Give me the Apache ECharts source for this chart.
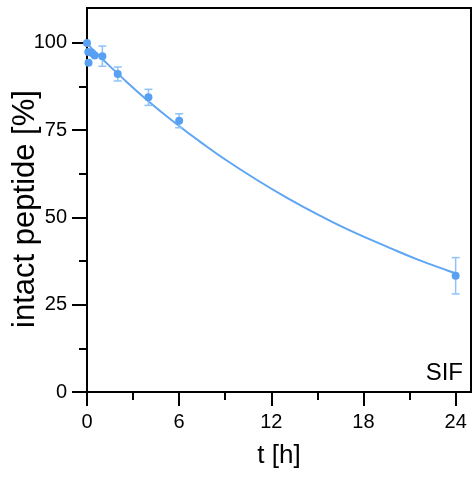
<!DOCTYPE html>
<html><head><meta charset="utf-8">
<script src="https://cdn.jsdelivr.net/npm/echarts@6/dist/echarts.min.js"></script>
<style>html,body{margin:0;padding:0;background:#fff}#c{width:475px;height:480px}</style>
</head><body><div id="c"></div>
<script>
const timesH = [0, 0.083, 0.1, 0.33, 0.5, 1, 2, 4, 6, 24];
const intactPct = [100, 97.4, 94.3, 97.1, 96.4, 96.2, 91.1, 84.4, 77.7, 33.3];
const errPct = [0, 0, 0, 0, 0, 2.9, 2.0, 2.3, 2.0, 5.2];
const fitT = [0, 1, 2, 4, 6, 7.33, 9, 11.23, 13, 15.13, 17, 19.7, 21.5, 23.6, 24];
const fitY = [99.8, 95.4, 91.2, 83.3, 76.2, 71.8, 66.6, 60.3, 55.7, 50.6, 46.5, 41.3, 38.0, 34.6, 34.0];
const xMajorTicks = [0, 6, 12, 18, 24];
const xMinorTicks = [3, 9, 15, 21];
const yMajorTicks = [0, 25, 50, 75, 100];
const yMinorTicks = [12.5, 37.5, 62.5, 87.5];
const xTitle = 't [h]';
const yTitle = 'intact peptide [%]';
const panelLabel = 'SIF';

const FONT = "'Liberation Sans', Arial, sans-serif";
const ptColor = '#58a1f2';
const lineColor = '#5ea5f3';
const errColor = '#8fc2f7';

const chart = echarts.init(document.getElementById('c'), null, {renderer: 'canvas'});
const pts = timesH.map((t, i) => [t, intactPct[i], errPct[i]]);
const fit = fitT.map((t, i) => [t, fitY[i]]);

const axLine = {show: true, lineStyle: {color: '#000', width: 2}};
chart.setOption({
  animation: false,
  grid: {left: 87, right: 4, top: 8, bottom: 88, show: true, borderColor: '#000', borderWidth: 2,
         backgroundColor: 'transparent', containLabel: false, outerBoundsMode: 'none'},
  xAxis: [
    {type: 'value', min: 0, max: 25, position: 'bottom', splitLine: {show: false},
     axisLine: axLine,
     axisTick: {show: true, customValues: xMajorTicks, length: 14, lineStyle: {color: '#000', width: 2}},
     axisLabel: {customValues: xMajorTicks, fontSize: 20, color: '#000', fontFamily: FONT, margin: 20},
     name: xTitle, nameLocation: 'middle', nameGap: 51,
     nameTextStyle: {fontSize: 26, color: '#000', fontFamily: FONT}},
    {type: 'value', min: 0, max: 25, position: 'bottom', splitLine: {show: false},
     axisLine: {show: false},
     axisTick: {show: true, customValues: xMinorTicks, length: 8, lineStyle: {color: '#000', width: 2}},
     axisLabel: {show: false}}
  ],
  yAxis: [
    {type: 'value', min: 0, max: 110, position: 'left', splitLine: {show: false},
     axisLine: axLine,
     axisTick: {show: true, customValues: yMajorTicks, length: 15, lineStyle: {color: '#000', width: 2}},
     axisLabel: {customValues: yMajorTicks, fontSize: 20, color: '#000', fontFamily: FONT, margin: 20}},
    {type: 'value', min: 0, max: 110, position: 'left', splitLine: {show: false},
     axisLine: {show: false},
     axisTick: {show: true, customValues: yMinorTicks, length: 8, lineStyle: {color: '#000', width: 2}},
     axisLabel: {show: false}}
  ],
  graphic: [
    {type: 'text', x: 25, y: 209, rotation: Math.PI / 2,
     style: {text: yTitle, x: 0, y: 0, align: 'center', verticalAlign: 'middle',
       font: "31px 'Liberation Sans', Arial, sans-serif", fill: '#000'}, z: 10},
    {type: 'text', style: {text: panelLabel, x: 463, y: 373, align: 'right', verticalAlign: 'middle',
     font: "24px 'Liberation Sans', Arial, sans-serif", fill: '#000'}, z: 10}
  ],
  series: [
    {type: 'line', data: fit, smooth: true, showSymbol: false, symbol: 'none',
     lineStyle: {color: lineColor, width: 2}, z: 2, clip: true},
    {type: 'custom', data: pts, z: 3,
     renderItem: function (params, api) {
       const x = api.value(0), y = api.value(1), e = api.value(2);
       if (!e) return null;
       const hi = api.coord([x, y + e]);
       const lo = api.coord([x, y - e]);
       const w = 4;
       const st = {stroke: errColor, lineWidth: 1.5};
       return {type: 'group', children: [
         {type: 'line', shape: {x1: hi[0], y1: hi[1], x2: lo[0], y2: lo[1]}, style: st},
         {type: 'line', shape: {x1: hi[0] - w, y1: hi[1], x2: hi[0] + w, y2: hi[1]}, style: st},
         {type: 'line', shape: {x1: lo[0] - w, y1: lo[1], x2: lo[0] + w, y2: lo[1]}, style: st}
       ]};
     }},
    {type: 'scatter', data: pts, symbolSize: 8, itemStyle: {color: ptColor, opacity: 1}, z: 4, clip: false}
  ]
});
</script></body></html>
